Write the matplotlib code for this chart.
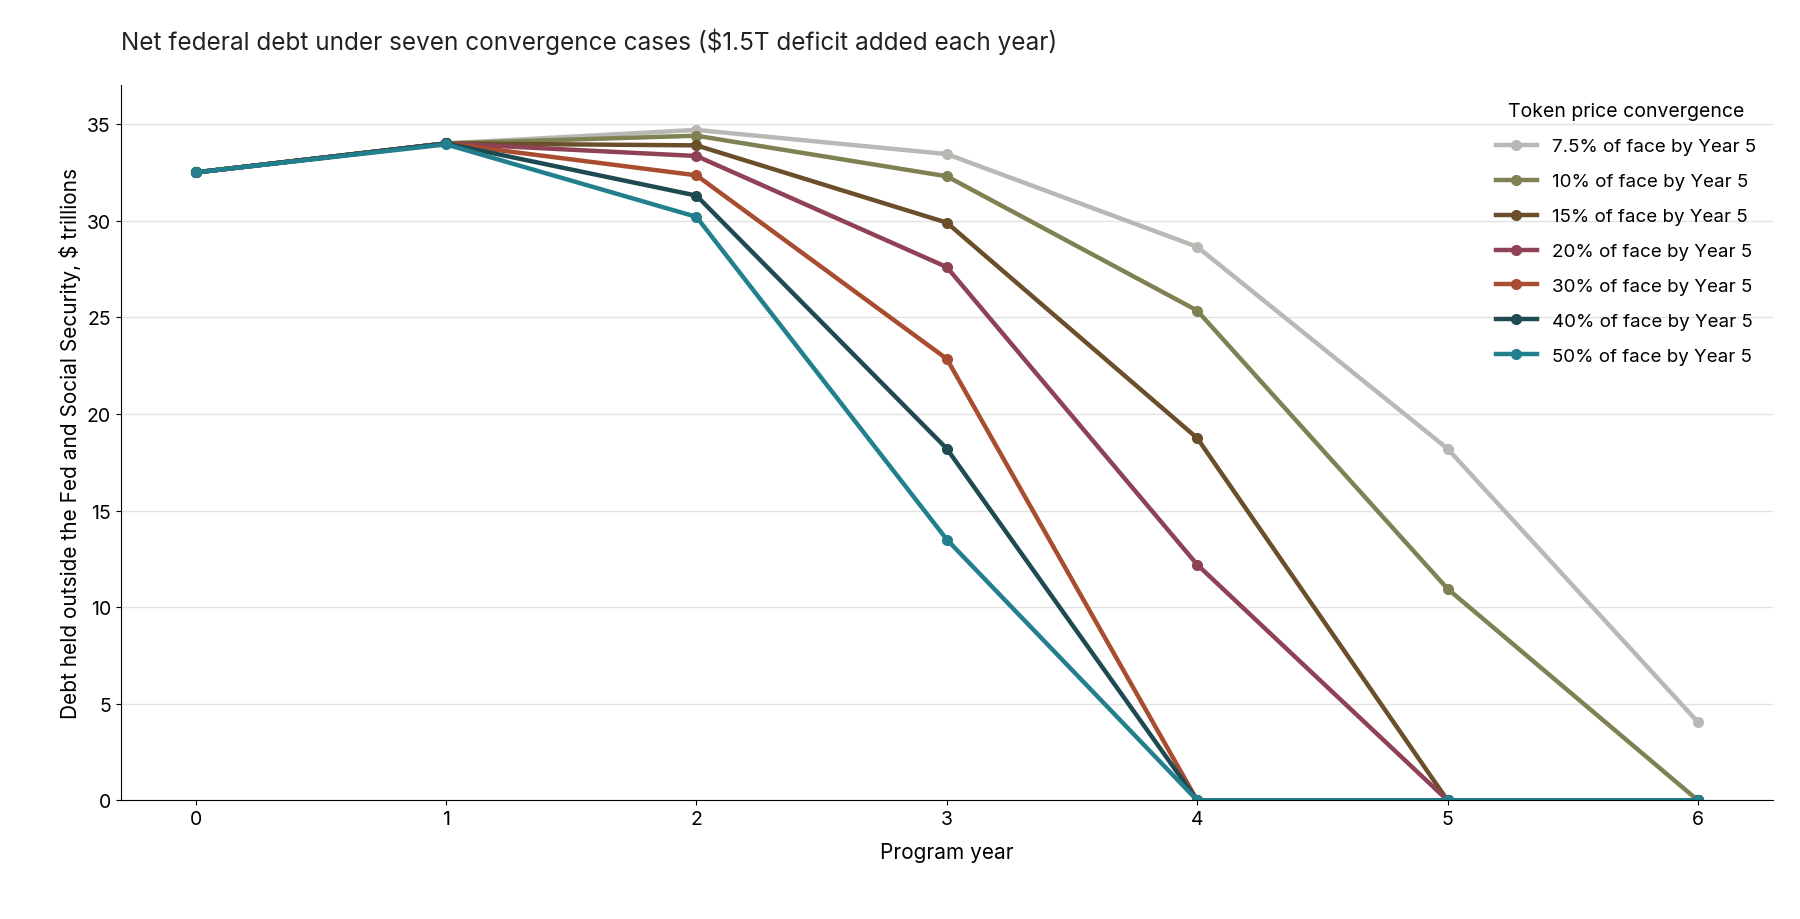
import matplotlib.pyplot as plt

plt.rcParams['font.family'] = ['Inter', 'DejaVu Sans']

years = [0, 1, 2, 3, 4, 5, 6]
labels = ["7.5% of face by Year 5", "10% of face by Year 5", "15% of face by Year 5",
          "20% of face by Year 5", "30% of face by Year 5", "40% of face by Year 5",
          "50% of face by Year 5"]
colors = ["#b8b8b4", "#7f8153", "#6b4e2a", "#8f4255", "#a84d30", "#1f4a52", "#22808e"]

debt_7_5 = [32.5, 34.0, 34.7, 33.45, 28.65, 18.2, 4.05]
debt_10 = [32.5, 34.0, 34.4, 32.3, 25.35, 10.95, 0.0]
debt_15 = [32.5, 34.0, 33.9, 29.9, 18.75, 0.0, 0.0]
debt_20 = [32.5, 34.0, 33.35, 27.6, 12.2, 0.0, 0.0]
debt_30 = [32.5, 34.0, 32.35, 22.85, 0.0, 0.0, 0.0]
debt_40 = [32.5, 34.0, 31.3, 18.2, 0.0, 0.0, 0.0]
debt_50 = [32.5, 33.95, 30.2, 13.5, 0.0, 0.0, 0.0]
series = [debt_7_5, debt_10, debt_15, debt_20, debt_30, debt_40, debt_50]

fig, ax = plt.subplots(figsize=(18, 9.2), dpi=100)
fig.subplots_adjust(left=0.067, right=0.985, top=0.906, bottom=0.129)

for vals, lab, col in zip(series, labels, colors):
    ax.plot(years, vals, color=col, lw=3.2, marker='o', ms=7, label=lab)

ax.set_xlim(-0.3, 6.3)
ax.set_ylim(0, 37)
ax.set_xticks(years)
ax.set_yticks(range(0, 36, 5))
ax.grid(axis='y', color='#e2e2e2', lw=1)
ax.set_axisbelow(True)
for s in ['top', 'right']:
    ax.spines[s].set_visible(False)
ax.tick_params(labelsize=14)
ax.set_xlabel("Program year", fontsize=15, labelpad=10)
ax.set_ylabel("Debt held outside the Fed and Social Security, $ trillions", fontsize=15)
ax.set_title("Net federal debt under seven convergence cases ($1.5T deficit added each year)",
             fontsize=17.5, loc='left', color='#222222', pad=26, x=0.0)
leg = ax.legend(title="Token price convergence", frameon=False, fontsize=13.5,
                title_fontsize=14, loc='upper right', labelspacing=0.95, handlelength=2.2)

fig.savefig("out.png")
